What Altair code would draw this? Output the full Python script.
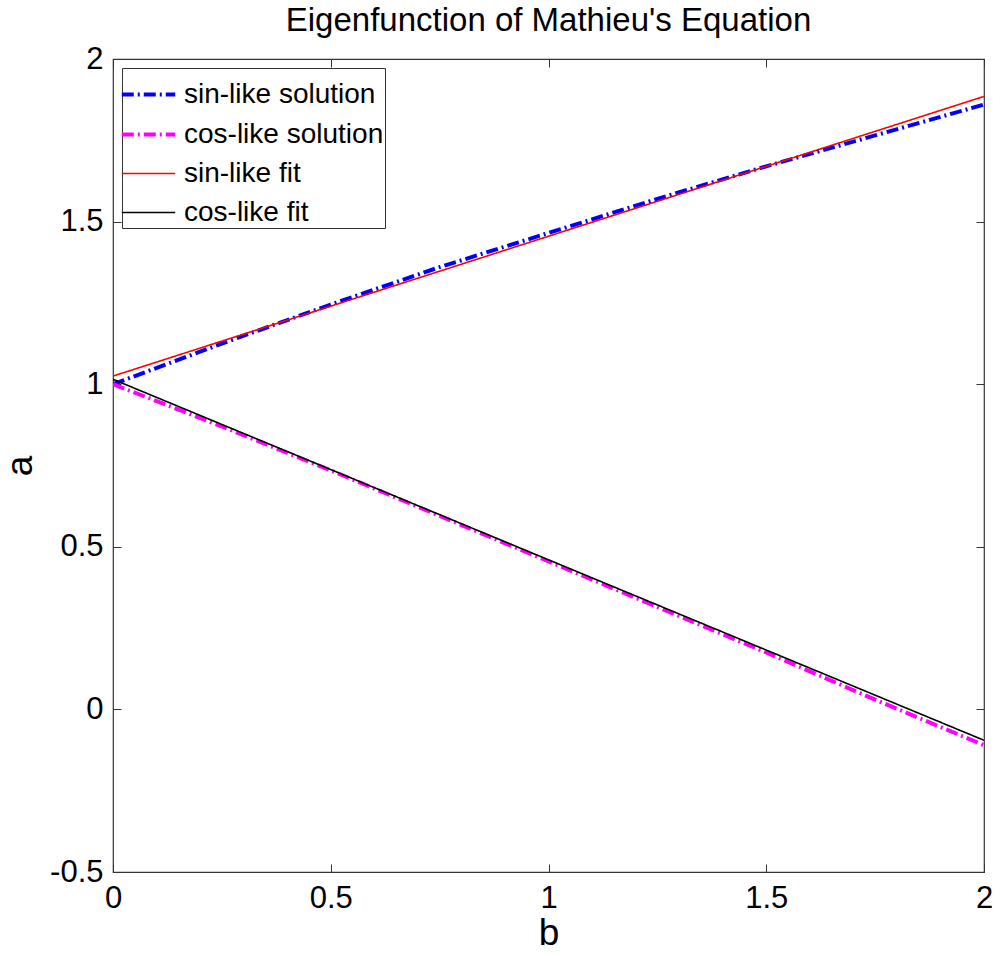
import altair as alt
import pandas as pd

# ---- data ----
b_sol = [0.0, 0.25, 0.5, 0.75, 1.0, 1.25, 1.5, 1.75, 2.0]
a_sin_sol = [1.00, 1.125, 1.245, 1.36, 1.465, 1.57, 1.67, 1.765, 1.86]
a_cos_sol = [1.00, 0.87, 0.735, 0.595, 0.455, 0.315, 0.175, 0.03, -0.11]
b_fit = [0.0, 2.0]
a_sin_fit = [1.025, 1.885]
a_cos_fit = [1.015, -0.095]

series_names = ["sin-like solution", "cos-like solution", "sin-like fit", "cos-like fit"]
series_colors = ["#0000ff", "#ff00ff", "#ff0000", "#000000"]
series_dash = [[12, 4, 2, 4], [12, 4, 2, 4], [1, 0], [1, 0]]
series_width = [4.0, 4.0, 1.6, 1.6]
x_ticks = [0, 0.5, 1, 1.5, 2]
y_ticks = [-0.5, 0, 0.5, 1, 1.5, 2]

rows = []
for name, bs, as_ in [
    (series_names[0], b_sol, a_sin_sol),
    (series_names[1], b_sol, a_cos_sol),
    (series_names[2], b_fit, a_sin_fit),
    (series_names[3], b_fit, a_cos_fit),
]:
    for i, (bv, av) in enumerate(zip(bs, as_)):
        rows.append({"series": name, "b": bv, "a": av, "order": i})
df = pd.DataFrame(rows)

FONT = "Liberation Sans"
LBL = "'' + datum.value"

xscale = alt.Scale(domain=[0, 2], nice=False, zero=False)
yscale = alt.Scale(domain=[-0.5, 2], nice=False, zero=False)

lines = alt.Chart(df).mark_line(clip=True).encode(
    x=alt.X("b:Q", scale=xscale,
            axis=alt.Axis(values=x_ticks, title="b", orient="bottom", offset=-8, tickSize=8,
                          domain=False, labelPadding=11, titlePadding=2, labelExpr=LBL,
                          labelFontSize=31, titleFontSize=37, labelFont=FONT, titleFont=FONT,
                          titleFontWeight="normal", labelColor="black", titleColor="black",
                          tickColor="#333", grid=False, labelFlush=False)),
    y=alt.Y("a:Q", scale=yscale,
            axis=alt.Axis(values=y_ticks, title="a", orient="left", offset=-8, tickSize=8,
                          domain=False, labelPadding=10, titlePadding=10, labelExpr=LBL,
                          labelFontSize=31, titleFontSize=37, labelFont=FONT, titleFont=FONT,
                          titleFontWeight="normal", labelColor="black", titleColor="black",
                          tickColor="#333", grid=False, labelFlush=False)),
    color=alt.Color("series:N", scale=alt.Scale(domain=series_names, range=series_colors),
                    legend=alt.Legend(title=None)),
    strokeDash=alt.StrokeDash("series:N", scale=alt.Scale(domain=series_names, range=series_dash),
                              legend=alt.Legend(title=None)),
    strokeWidth=alt.StrokeWidth("series:N", scale=alt.Scale(type="ordinal", domain=series_names,
                                                            range=series_width),
                                legend=alt.Legend(title=None)),
    order="order:Q",
    detail="series:N",
)

mirror = alt.Chart(df).mark_line(opacity=0).encode(
    x=alt.X("b:Q", scale=xscale,
            axis=alt.Axis(values=x_ticks, title=None, orient="top", offset=-8, tickSize=8,
                          domain=False, labels=False, tickColor="#333", grid=False)),
    y=alt.Y("a:Q", scale=yscale,
            axis=alt.Axis(values=y_ticks, title=None, orient="right", offset=-8, tickSize=8,
                          domain=False, labels=False, tickColor="#333", grid=False)),
    detail="series:N",
)

chart = alt.layer(lines, mirror).resolve_axis(x="independent", y="independent").properties(
    width=871,
    height=813,
    autosize=alt.AutoSizeParams(type="none"),
    padding={"left": 113, "top": 59, "right": 13, "bottom": 82},
    title=alt.TitleParams("Eigenfunction of Mathieu's Equation", font=FONT, fontSize=33,
                          fontWeight="normal", color="black", anchor="middle", frame="group",
                          baseline="alphabetic", offset=0, dy=21),
    background="white",
).configure_view(
    stroke="#333", strokeWidth=1.2
).configure_legend(
    orient="none", legendX=9, legendY=9,
    fillColor="white", strokeColor="#333", padding=1,
    labelFont=FONT, labelFontSize=28, labelColor="black", labelLimit=400,
    symbolType="M-1.15,0H1.15", symbolSize=2160, labelOffset=10, rowPadding=0,
)

chart.save("out.html", embed_options={"renderer": "svg", "actions": False})
